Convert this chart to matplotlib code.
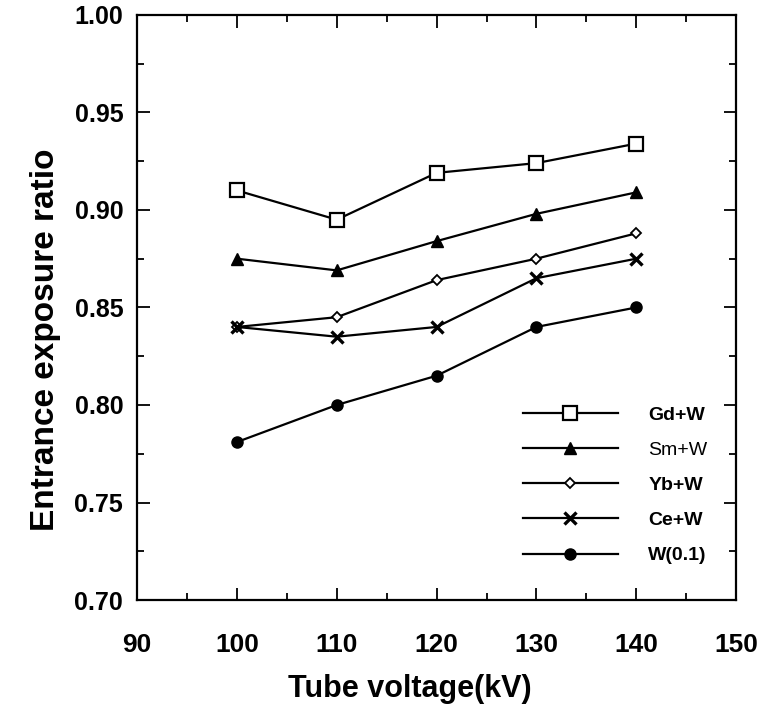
import matplotlib
matplotlib.use("Agg")
import matplotlib.pyplot as plt
from matplotlib.ticker import MultipleLocator

plt.rcParams['font.family'] = ['Liberation Sans', 'DejaVu Sans']

kv = [100, 110, 120, 130, 140]

gd_w = [0.910, 0.895, 0.919, 0.924, 0.934]
sm_w = [0.875, 0.869, 0.884, 0.898, 0.909]
yb_w = [0.840, 0.845, 0.864, 0.875, 0.888]
ce_w = [0.840, 0.835, 0.840, 0.865, 0.875]
w_01 = [0.781, 0.800, 0.815, 0.840, 0.850]

labels = ["Gd+W", "Sm+W", "Yb+W", "Ce+W", "W(0.1)"]

fig = plt.figure(figsize=(7.70, 7.08), dpi=100)
ax = fig.add_axes([0.178, 0.1525, 0.778, 0.8265])

ax.plot(kv, gd_w, color="black", lw=1.6, marker="s", ms=10, mfc="white", mec="black", mew=1.6, label=labels[0])
ax.plot(kv, sm_w, color="black", lw=1.6, marker="^", ms=9, mfc="black", mec="black", label=labels[1])
ax.plot(kv, yb_w, color="black", lw=1.6, marker="D", ms=5, mfc="white", mec="black", mew=1.3, label=labels[2])
ax.plot(kv, ce_w, color="black", lw=1.6, marker="x", ms=8, mec="black", mew=2.4, label=labels[3])
ax.plot(kv, w_01, color="black", lw=1.6, marker="o", ms=8, mfc="black", mec="black", label=labels[4])

ax.set_xlim(90, 150)
ax.set_ylim(0.70, 1.00)
ax.xaxis.set_major_locator(MultipleLocator(10))
ax.xaxis.set_minor_locator(MultipleLocator(5))
ax.yaxis.set_major_locator(MultipleLocator(0.05))
ax.yaxis.set_minor_locator(MultipleLocator(0.025))
ax.yaxis.set_major_formatter(plt.FormatStrFormatter("%.2f"))

ax.tick_params(which="both", direction="in", top=True, right=True, width=1.3)
ax.tick_params(which="major", length=9)
ax.tick_params(which="minor", length=5)
ax.tick_params(axis="x", which="major", pad=24, labelsize=19)
ax.tick_params(axis="y", which="major", pad=10, labelsize=18)
for lab in ax.get_xticklabels() + ax.get_yticklabels():
    lab.set_fontweight("bold")

for s in ax.spines.values():
    s.set_linewidth(1.6)

# axis titles placed like in the scan (not centred on the axes)
fig.text(410 / 770, 1 - 697 / 708, "Tube voltage(kV)", fontsize=22, fontweight="bold",
         ha="center", va="baseline")
fig.text(46 / 770, 1 - 340 / 708, "Entrance exposure ratio", fontsize=24, fontweight="bold",
         rotation=90, ha="center", va="center")

leg = ax.legend(loc="upper left", bbox_to_anchor=(0.644, 0.331), frameon=False,
                borderpad=0, borderaxespad=0,
                numpoints=1, handlelength=4.9, handletextpad=1.55, labelspacing=0.9,
                prop={"size": 14, "weight": "bold"})
leg.get_texts()[1].set_fontweight("normal")

fig.savefig("out.png", dpi=100)
